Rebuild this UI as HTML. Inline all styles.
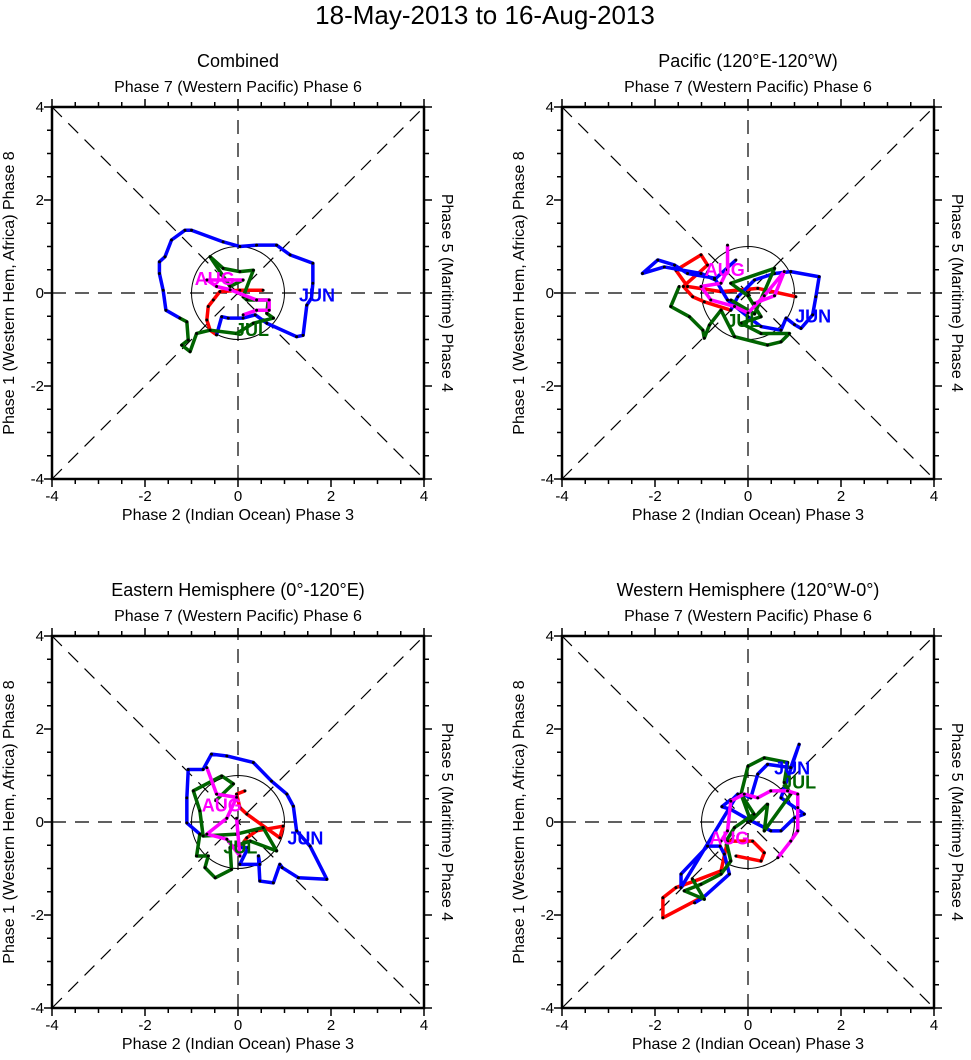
<!DOCTYPE html>
<html><head><meta charset="utf-8"><style>
body{margin:0;background:#fff;}
svg{display:block;font-family:"Liberation Sans",sans-serif;}
</style></head><body>
<svg id="c" width="971" height="1060"></svg>
<script>
// RMM1 / RMM2 values per month, per panel
const panelTitles = ["Combined","Pacific (120°E-120°W)","Eastern Hemisphere (0°-120°E)","Western Hemisphere (120°W-0°)"];
const ticks = [-4,-2,0,2,4];
const monthNames = ["MAY","JUN","JUL","AUG"];
const monthColors = ["#ff0000","#0000ff","#006400","#ff00ff"];

const p1May1 = [0.54,0.04,-0.39,-0.53,-0.64,-0.67,-0.60,-0.46];
const p1May2 = [0.06,0.06,0.03,-0.15,-0.29,-0.58,-0.80,-0.90];
const p1Jun1 = [-0.46,-0.35,-0.21,0.11,0.37,0.62,1.26,1.40,1.48,1.58,1.61,1.61,1.12,0.83,0.40,0.04,-0.32,-1.00,-1.14,-1.43,-1.57,-1.69,-1.69,-1.61,-1.55,-1.25];
const p1Jun2 = [-0.90,-0.51,-0.54,-0.54,-0.47,-0.65,-0.94,-0.91,-0.26,-0.11,0.21,0.64,0.82,1.03,1.03,1.00,1.10,1.35,1.35,1.14,0.78,0.67,0.42,0.06,-0.37,-0.54];
const p1Jul1 = [-1.25,-1.10,-1.07,-1.21,-1.03,-0.89,-0.60,-0.03,0.33,0.76,0.62,0.65,0.19,0.11,0.33,0.04,-0.32,-0.60,-0.17,0.11];
const p1Jul2 = [-0.54,-0.62,-1.01,-1.12,-1.26,-0.87,-0.80,-0.87,-0.65,-0.54,-0.44,-0.15,-0.15,-0.08,0.49,0.46,0.53,0.78,0.14,0.28];
const p1Aug1 = [0.11,-0.67,-0.46,-0.17,0.40,0.67,0.67,0.40,0.11];
const p1Aug2 = [0.28,0.28,0.14,0.07,-0.15,-0.15,-0.37,-0.37,-0.47];

const p2May1 = [1.03,0.21,-0.58,-1.30,-1.55,-1.01,-0.87,-1.39,-1.19,-0.94,-0.37];
const p2May2 = [-0.08,0.10,0.03,0.14,0.49,0.82,0.60,0.14,-0.08,-0.19,-0.37];
const p2Jun1 = [-0.37,-0.22,0.14,0.57,0.92,1.53,1.46,1.39,1.14,1.00,0.82,0.71,0.28,0.00,-0.44,-0.72,-1.30,-1.58,-1.94,-2.27,-1.80,-1.01,-0.72,-0.26];
const p2Jun2 = [-0.37,-0.08,0.28,0.42,0.46,0.35,-0.08,-0.47,-0.76,-0.68,-0.54,-0.80,-0.72,-0.51,-0.15,0.32,0.42,0.60,0.71,0.42,0.56,0.42,0.29,0.71];
const p2Jul1 = [-1.48,-1.66,-1.26,-0.97,-0.94,-0.83,-0.58,-0.29,0.42,0.71,0.89,0.28,-0.15,0.28,0.00,-0.37,0.57,0.14,-0.37];
const p2Jul2 = [0.14,-0.29,-0.51,-0.80,-0.97,-0.69,-0.37,-0.94,-1.12,-1.05,-0.87,-0.87,-0.65,-0.51,-0.06,0.21,0.53,-0.45,-0.15];
const p2Aug1 = [-0.44,-0.44,-0.58,-1.01,-0.80,-0.29,0.00,0.35,0.78,0.57,0.14];
const p2Aug2 = [1.03,0.50,0.21,0.14,-0.15,-0.29,-0.43,-0.06,0.46,-0.06,-0.22];

const p3May1 = [0.15,-0.03,0.04,0.19,0.90,0.97,0.40,0.19,0.04];
const p3May2 = [0.67,0.60,0.31,0.17,-0.34,-0.09,-0.19,-0.34,-0.55];
const p3Jun1 = [0.04,0.22,0.04,0.47,0.44,0.47,0.76,0.90,0.95,1.30,1.91,1.55,1.26,1.19,1.05,0.72,0.33,-0.24,-0.57,-0.75,-1.07,-1.10,-1.10,-0.82];
const p3Jun2 = [-0.55,-0.55,-0.91,-0.91,-0.73,-1.27,-1.31,-0.91,-0.98,-1.20,-1.23,-0.52,-0.19,0.34,0.60,0.88,1.28,1.42,1.46,1.13,1.13,0.52,-0.02,-0.26];
const p3Jul1 = [-0.82,-0.89,-0.64,-0.71,-0.49,-0.14,-0.17,0.26,0.83,0.54,-0.03,-0.75,-0.82,-0.96,-0.35,-0.10,-0.48];
const p3Jul2 = [-0.26,-0.73,-0.73,-0.98,-1.20,-1.02,-0.55,-0.41,-0.62,-0.12,-0.26,-0.30,0.24,0.67,0.99,0.82,0.46];
const p3Aug1 = [-0.67,-0.46,-0.03,-0.24,-0.67,-0.24,0.04,-0.03];
const p3Aug2 = [1.17,0.60,0.53,0.08,-0.26,-0.37,-0.73,0.08];

const p4May1 = [-0.26,0.28,0.35,0.10,-0.44,-0.58,-1.15,-1.55,-1.83,-1.83,-1.01];
const p4May2 = [-0.73,-0.84,-0.66,-0.41,-0.41,-1.05,-1.27,-1.41,-1.63,-2.06,-1.63];
const p4Jun1 = [-1.15,-0.97,-0.40,-0.51,-0.60,-0.87,-1.44,-1.44,-0.22,-0.37,-0.14,0.06,0.21,0.42,0.92,1.10,0.71,1.21,1.00,0.71,0.49,0.00,-0.37,-0.56,-0.37];
const p4Jun2 = [-1.74,-1.63,-1.12,-0.69,-0.52,-0.52,-1.12,-1.41,0.60,0.45,0.61,0.52,1.03,1.24,1.17,1.67,0.52,0.17,0.09,-0.19,-0.19,0.06,0.27,0.33,0.48];
const p4Jul1 = [-0.15,0.00,0.35,0.85,0.78,0.92,0.35,0.42,0.06,-0.15,0.13,-0.29,-0.47,-0.37,-0.58,-1.01,-1.37,-0.94,-1.20];
const p4Jul2 = [0.60,1.20,1.38,1.28,0.85,0.60,-0.19,0.38,0.02,0.60,0.17,-0.12,-0.41,-0.84,-1.12,-1.34,-1.48,-1.66,-1.22];
const p4Aug1 = [-0.58,-0.44,-0.37,-0.08,0.21,0.49,0.85,1.07,1.07,1.07,0.92,0.64];
const p4Aug2 = [-0.41,-0.19,0.45,0.60,0.52,0.67,0.67,0.60,0.31,-0.19,-0.41,-0.77];

// month label positions (RMM units) [jun, jul, aug]
const labX = [[1.7,0.3,-0.5],[1.4,-0.1,-0.5],[1.45,0.05,-0.35],[0.95,1.1,-0.4]];
const labY = [[-0.05,-0.8,0.3],[-0.5,-0.6,0.5],[-0.35,-0.55,0.35],[1.15,0.85,-0.35]];

const panels=[
 {x0:52,y0:107,data:[[p1May1,p1May2],[p1Jun1,p1Jun2],[p1Jul1,p1Jul2],[p1Aug1,p1Aug2]]},
 {x0:562,y0:107,data:[[p2May1,p2May2],[p2Jun1,p2Jun2],[p2Jul1,p2Jul2],[p2Aug1,p2Aug2]]},
 {x0:52,y0:636,data:[[p3May1,p3May2],[p3Jun1,p3Jun2],[p3Jul1,p3Jul2],[p3Aug1,p3Aug2]]},
 {x0:562,y0:636,data:[[p4May1,p4May2],[p4Jun1,p4Jun2],[p4Jul1,p4Jul2],[p4Aug1,p4Aug2]]}
];
const S=372, NS='http://www.w3.org/2000/svg';
const svg=document.getElementById('c');
function mk(tag,attrs,parent,text){const e=document.createElementNS(NS,tag);for(const k in attrs)e.setAttribute(k,attrs[k]);if(text!==undefined)e.textContent=text;(parent||svg).appendChild(e);return e;}

const t=mk('text',{x:485,y:24,'text-anchor':'middle','font-size':26},svg,'18-May-2013 to 16-Aug-2013');



panels.forEach((p,i)=>{
 const sx=v=>p.x0+(v+4)/8*S, sy=v=>p.y0+(4-v)/8*S;
 const g=mk('g',{});
 
 
 const cx=sx(0),cy=sy(0);
 const ttl=mk('text',{x:cx,y:p.y0-40,'text-anchor':'middle','font-size':18},g,panelTitles[i]);
 
 
 const top=mk('text',{x:cx,y:p.y0-15,'text-anchor':'middle','font-size':16},g,'Phase 7 (Western Pacific) Phase 6');
 
 
 const bot=mk('text',{x:cx,y:p.y0+S+41,'text-anchor':'middle','font-size':16},g,'Phase 2 (Indian Ocean) Phase 3');
 
 
 const lft=mk('text',{x:0,y:0,'text-anchor':'middle','font-size':16,transform:`translate(${p.x0-38},${cy}) rotate(-90)`},g,'Phase 1 (Western Hem, Africa) Phase 8');
 
 
 const rgt=mk('text',{x:0,y:0,'text-anchor':'middle','font-size':16,transform:`translate(${p.x0+S+18},${cy}) rotate(90)`},g,'Phase 5 (Maritime) Phase 4');
 
 
 const dl=[[-4,-4,4,4],[-4,4,4,-4],[-4,0,4,0],[0,-4,0,4]];
 dl.forEach(d=>{const l=mk('line',{x1:sx(d[0]),y1:sy(d[1]),x2:sx(d[2]),y2:sy(d[3]),stroke:'#000','stroke-width':1.2,'stroke-dasharray':'14,9'},g);
  
  });
 const c=mk('circle',{cx:cx,cy:cy,r:S/8,fill:'none',stroke:'#000','stroke-width':1},g);
 
 
 for(let v=-4;v<=4;v+=0.5){
  const L=(v%2===0)?8:5;
  mk('line',{x1:sx(v),y1:p.y0+S,x2:sx(v),y2:p.y0+S+L,stroke:'#000','stroke-width':1.5},g);
  mk('line',{x1:sx(v),y1:p.y0,x2:sx(v),y2:p.y0-L,stroke:'#000','stroke-width':1.5},g);
  mk('line',{x1:p.x0,y1:sy(v),x2:p.x0-L,y2:sy(v),stroke:'#000','stroke-width':1.5},g);
  mk('line',{x1:p.x0+S,y1:sy(v),x2:p.x0+S+L,y2:sy(v),stroke:'#000','stroke-width':1.5},g);
 }
 ticks.forEach(v=>{
  const a=mk('text',{x:sx(v),y:p.y0+S+22,'text-anchor':'middle','font-size':15},g,String(v));
  
  
  const b=mk('text',{x:p.x0-8,y:sy(v)+5,'text-anchor':'end','font-size':15},g,String(v));
  
  
 });
 const box=mk('rect',{x:p.x0,y:p.y0,width:S,height:S,fill:'none',stroke:'#000','stroke-width':2.5},g);
 
 
 p.data.forEach((m,mi)=>{
  const xs=m[0],ys=m[1];
  let pts=xs.map((x,k)=>sx(x)+','+sy(ys[k])).join(' ');
  const pl=mk('polyline',{points:pts,fill:'none',stroke:monthColors[mi],'stroke-width':3.5,'stroke-linejoin':'round'},g);
  
  
  xs.forEach((x,k)=>{
   const d=mk('circle',{cx:sx(x),cy:sy(ys[k]),r:1.5,fill:'#000'},g);
   
   
  });
 });
 [1,2,3].forEach((mi,j)=>{
  const lb=mk('text',{x:sx(labX[i][j]),y:sy(labY[i][j])+6,'text-anchor':'middle','font-size':18,'font-weight':'bold',fill:monthColors[mi]},g,monthNames[mi]);
  
  
 });
});
</script>
</body></html>
